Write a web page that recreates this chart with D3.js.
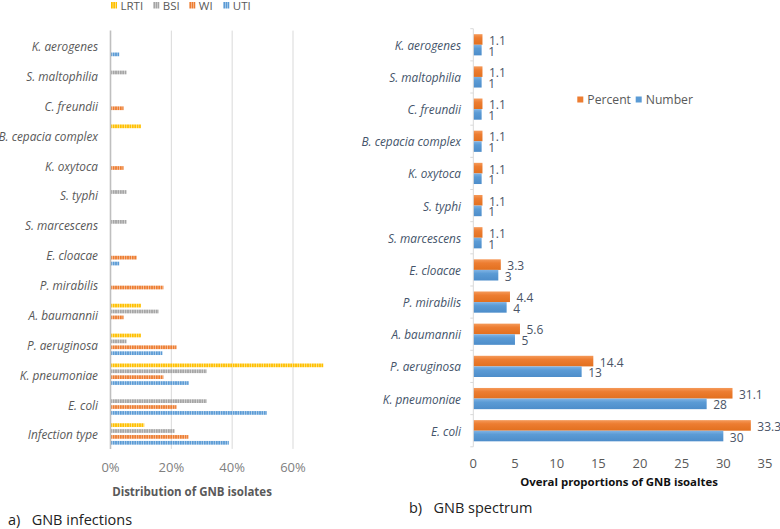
<!DOCTYPE html>
<html>
<head>
<meta charset="utf-8">
<script src="https://cdn.jsdelivr.net/npm/d3@7"></script>
<style>
  body { margin: 0; background: #fff; }
  svg { font-family: "Open Sans", "Noto Sans", sans-serif; }
</style>
</head>
<body>
<svg id="chart" width="780" height="529"></svg>
<script>
// panel a) infection types, % of isolates within each infection type
var infCategories = ['K. aerogenes', 'S. maltophilia', 'C. freundii', 'B. cepacia complex', 'K. oxytoca',
  'S. typhi', 'S. marcescens', 'E. cloacae', 'P. mirabilis', 'A. baumannii', 'P. aeruginosa',
  'K. pneumoniae', 'E. coli', 'Infection type'];
var infSeries = ['LRTI', 'BSI', 'WI', 'UTI'];
var lrti = [0, 0, 0, 10, 0, 0, 0, 0, 0, 10, 10, 70, 0, 11.1];
var bsi  = [0, 5.3, 0, 0, 0, 5.3, 5.3, 0, 0, 15.8, 5.3, 31.6, 31.6, 21.1];
var wi   = [0, 0, 4.3, 0, 4.3, 0, 0, 8.7, 17.4, 4.3, 21.7, 17.4, 21.7, 25.6];
var uti  = [2.9, 0, 0, 0, 0, 0, 0, 2.9, 0, 0, 17.1, 25.7, 51.4, 38.9];
var infTicks = [0, 20, 40, 60];

// panel b) GNB spectrum
var species = infCategories.slice(0, 13);
var specSeries = ['Percent', 'Number'];
var percent = [1.1, 1.1, 1.1, 1.1, 1.1, 1.1, 1.1, 3.3, 4.4, 5.6, 14.4, 31.1, 33.3];
var number  = [1, 1, 1, 1, 1, 1, 1, 3, 4, 5, 13, 28, 30];
var specTicks = [0, 5, 10, 15, 20, 25, 30, 35];

var svg = d3.select('#chart');
var defs = svg.append('defs');

var infColors = {'LRTI': '#ffc000', 'BSI': '#a5a5a5', 'WI': '#ed7d31', 'UTI': '#5b9bd5'};
var specColors = {'Percent': ['#f59a5a', '#ed7d31', '#e2701f'], 'Number': ['#80b3e4', '#5b9bd5', '#4d8dca']};

// striped fill like the excel "dashed vertical" pattern
infSeries.forEach(function(s){
	var p = defs.append('pattern').attr('id', 'hatch-' + s)
		.attr('patternUnits', 'userSpaceOnUse').attr('width', 2.4).attr('height', 6);
	p.append('rect').attr('width', 2.4).attr('height', 6).attr('fill', infColors[s]);
	p.append('rect').attr('x', 1.6).attr('width', 0.8).attr('height', 6).attr('fill', '#fff').attr('opacity', 0.55);
});
specSeries.forEach(function(s){
	var g = defs.append('linearGradient').attr('id', 'grad-' + s)
		.attr('x1', 0).attr('y1', 0).attr('x2', 0).attr('y2', 1);
	g.append('stop').attr('offset', '0%').attr('stop-color', specColors[s][0]);
	g.append('stop').attr('offset', '35%').attr('stop-color', specColors[s][1]);
	g.append('stop').attr('offset', '100%').attr('stop-color', specColors[s][2]);
});

// ---------- panel a ----------
var infData = infCategories.map(function(c, i){
	return {cat: c, vals: {'LRTI': lrti[i], 'BSI': bsi[i], 'WI': wi[i], 'UTI': uti[i]}};
});

var xA = d3.scaleLinear().domain([0, 60]).range([110.5, 293]);
var yA = d3.scaleBand().domain(infCategories).range([30.6, 448.9]);
var groupH = 21.4;
var subA = d3.scaleBand().domain(infSeries).range([0, groupH]).paddingInner(0.37);

var gA = svg.append('g');

gA.selectAll('line.grid').data(infTicks.slice(1)).enter().append('line')
	.attr('x1', function(d){ return xA(d); }).attr('x2', function(d){ return xA(d); })
	.attr('y1', yA.range()[0]).attr('y2', yA.range()[1])
	.attr('stroke', '#d9d9d9').attr('stroke-width', 1);

var rows = gA.selectAll('g.row').data(infData).enter().append('g')
	.attr('transform', function(d){ return 'translate(0,' + (yA(d.cat) + (yA.bandwidth() - groupH) / 2) + ')'; });

rows.selectAll('rect').data(function(d){
		return infSeries.map(function(s){ return {s: s, v: d.vals[s]}; }).filter(function(e){ return e.v > 0; });
	}).enter().append('rect')
	.attr('x', xA(0))
	.attr('y', function(d){ return subA(d.s); })
	.attr('width', function(d){ return xA(d.v) - xA(0); })
	.attr('height', subA.bandwidth())
	.attr('fill', function(d){ return 'url(#hatch-' + d.s + ')'; });

gA.append('line')
	.attr('x1', xA(0)).attr('x2', xA(0))
	.attr('y1', yA.range()[0]).attr('y2', yA.range()[1])
	.attr('stroke', '#bfbfbf').attr('stroke-width', 1.6);

gA.selectAll('text.cat').data(infCategories).enter().append('text')
	.attr('x', 98)
	.attr('y', function(d){ return yA(d) + yA.bandwidth() / 2 + 0.5; })
	.attr('text-anchor', 'end').attr('dominant-baseline', 'central')
	.style('font-style', 'italic').style('font-size', '11.8px').attr('fill', '#595959')
	.text(function(d){ return d; });

gA.selectAll('text.tick').data(infTicks).enter().append('text')
	.attr('x', function(d){ return xA(d); }).attr('y', 471.5)
	.attr('text-anchor', 'middle').style('font-size', '13px').attr('fill', '#808080')
	.text(function(d){ return d + '%'; });

gA.append('text').attr('x', 192).attr('y', 496)
	.attr('text-anchor', 'middle').style('font-size', '11.5px').style('font-weight', 'bold').attr('fill', '#595959')
	.text('Distribution of GNB isolates');

var legA = gA.selectAll('g.leg').data(infSeries).enter().append('g')
	.attr('transform', function(d, i){ return 'translate(' + [111, 153.3, 189.3, 223.3][i] + ',0)'; });
legA.append('rect').attr('x', 0).attr('y', 2).attr('width', 6).attr('height', 6.5)
	.attr('fill', function(d){ return 'url(#hatch-' + d + ')'; });
legA.append('text').attr('x', 9.5).attr('y', 10).style('font-size', '11.5px').attr('fill', '#595959')
	.text(function(d){ return d; });

svg.append('text').attr('x', 8).attr('y', 525).style('font-size', '14.5px').attr('fill', '#222')
	.text('a)\u00a0\u00a0 GNB infections');

// ---------- panel b ----------
var specData = species.map(function(c, i){
	return {cat: c, vals: {'Percent': percent[i], 'Number': number[i]}};
});

var xB = d3.scaleLinear().domain([0, 35]).range([473.3, 765]);
var yB = d3.scaleBand().domain(species).range([28.7, 446.8]);
var barH = 10.6;
var subB = d3.scaleBand().domain(specSeries).range([0, barH * 2]);

var gB = svg.append('g');

var rowsB = gB.selectAll('g.row').data(specData).enter().append('g')
	.attr('transform', function(d){ return 'translate(0,' + (yB(d.cat) + yB.bandwidth() / 2 - barH) + ')'; });

rowsB.selectAll('rect').data(function(d){
		return specSeries.map(function(s){ return {s: s, v: d.vals[s]}; });
	}).enter().append('rect')
	.attr('x', xB(0))
	.attr('y', function(d){ return subB(d.s); })
	.attr('width', function(d){ return xB(d.v) - xB(0); })
	.attr('height', subB.bandwidth())
	.attr('fill', function(d){ return 'url(#grad-' + d.s + ')'; });

rowsB.selectAll('text').data(function(d){
		return specSeries.map(function(s){ return {s: s, v: d.vals[s]}; });
	}).enter().append('text')
	.attr('x', function(d){ return xB(d.v) + 6.5; })
	.attr('y', function(d){ return subB(d.s) + subB.bandwidth() / 2 + 1; })
	.attr('dominant-baseline', 'central')
	.style('font-size', '12px').attr('fill', '#4a5466')
	.text(function(d){ return d.v; });

gB.append('line')
	.attr('x1', xB(0)).attr('x2', xB(0))
	.attr('y1', yB.range()[0]).attr('y2', yB.range()[1])
	.attr('stroke', '#d9d9d9').attr('stroke-width', 1);

var bounds = species.map(function(d){ return yB(d); }).concat([yB.range()[1]]);
gB.selectAll('line.tk').data(bounds).enter().append('line')
	.attr('x1', xB(0) - 3).attr('x2', xB(0))
	.attr('y1', function(d){ return d; }).attr('y2', function(d){ return d; })
	.attr('stroke', '#d9d9d9').attr('stroke-width', 1);

gB.selectAll('text.cat').data(species).enter().append('text')
	.attr('x', 461)
	.attr('y', function(d){ return yB(d) + yB.bandwidth() / 2; })
	.attr('text-anchor', 'end').attr('dominant-baseline', 'central')
	.style('font-style', 'italic').style('font-size', '11.8px').attr('fill', '#44546a')
	.text(function(d){ return d; });

gB.selectAll('text.tick').data(specTicks).enter().append('text')
	.attr('x', function(d){ return xB(d); }).attr('y', 467.5)
	.attr('text-anchor', 'middle').style('font-size', '13px').attr('fill', '#595959')
	.text(function(d){ return d; });

gB.append('text').attr('x', 619).attr('y', 486)
	.attr('text-anchor', 'middle').style('font-size', '11.4px').style('font-weight', 'bold').attr('fill', '#111')
	.text('Overal proportions of GNB isoaltes');

var legB = gB.selectAll('g.leg').data(specSeries).enter().append('g')
	.attr('transform', function(d, i){ return 'translate(' + [577.3, 635.7][i] + ',0)'; });
legB.append('rect').attr('x', 0).attr('y', 96.5).attr('width', 6).attr('height', 6)
	.attr('fill', function(d){ return specColors[d][1]; });
legB.append('text').attr('x', 10).attr('y', 99.5).attr('dominant-baseline', 'central')
	.style('font-size', '12.2px').attr('fill', '#595959')
	.text(function(d){ return d; });

svg.append('text').attr('x', 409).attr('y', 513).style('font-size', '14.5px').attr('fill', '#222')
	.text('b)\u00a0\u00a0 GNB spectrum');
</script>
</body>
</html>
